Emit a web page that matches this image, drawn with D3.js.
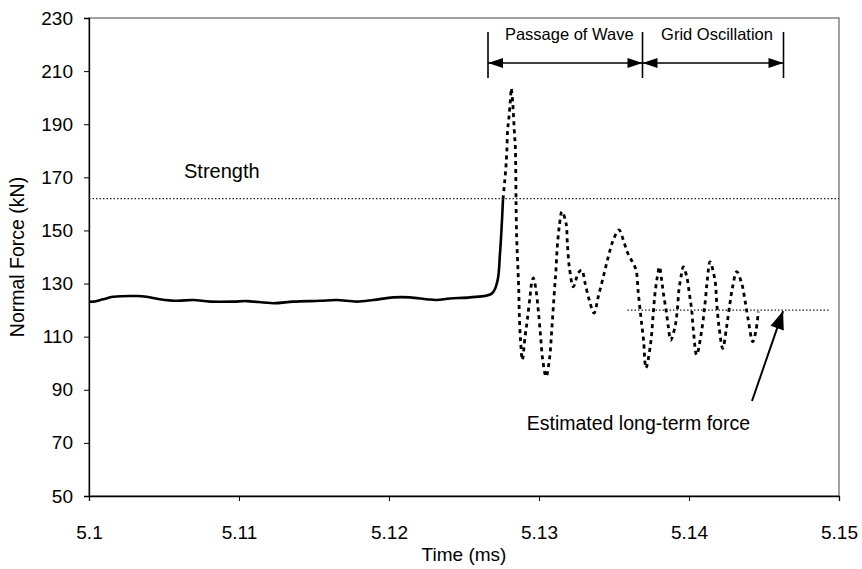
<!DOCTYPE html>
<html>
<head>
<meta charset="utf-8">
<script src="https://cdn.jsdelivr.net/npm/d3@7"></script>
<style>
  body { margin: 0; background: #fff; }
  svg text { font-family: "Liberation Sans", Arial, sans-serif; fill: #000; }
</style>
</head>
<body>
<script>
// measured force before the wave (solid)
var solidTime = [5.1, 5.10029, 5.10095, 5.10162, 5.10318, 5.10385, 5.10473, 5.10585, 5.10695, 5.10807,
    5.10962, 5.11051, 5.11229, 5.11362, 5.1154, 5.11651, 5.11785, 5.11895, 5.12029, 5.1214,
    5.12251, 5.12318, 5.12407, 5.1254, 5.12685, 5.12722, 5.1274, 5.12751, 5.1276];
var solidForce = [123.2, 123.2, 124.1, 125.0, 125.3, 125.0, 124.1, 123.5, 123.8, 123.2,
    123.2, 123.4, 122.6, 123.2, 123.5, 123.8, 123.2, 123.8, 124.8, 124.8,
    124.1, 123.8, 124.4, 124.8, 126.2, 130.7, 141.4, 151.4, 161.8];

// force after the wave (dotted)
var waveTime = [5.1276, 5.12769, 5.12778, 5.12785, 5.12791, 5.128, 5.12811, 5.12815, 5.12825, 5.12835,
    5.12842, 5.12845, 5.12847, 5.12851, 5.12858, 5.12865, 5.12869, 5.12878, 5.12889, 5.12907,
    5.12922, 5.1294, 5.12951, 5.12962, 5.1298, 5.12995, 5.13011, 5.13025, 5.13047, 5.13069,
    5.13085, 5.131, 5.13113, 5.13122, 5.13135, 5.13153, 5.1318, 5.13189, 5.13202, 5.13229,
    5.13262, 5.13285, 5.13307, 5.13335, 5.13367, 5.13395, 5.13429, 5.13462, 5.13495, 5.13533,
    5.13562, 5.1359, 5.13623, 5.13647, 5.13662, 5.1368, 5.13697, 5.13713, 5.13743, 5.13762,
    5.13773, 5.13789, 5.13803, 5.13818, 5.13829, 5.13847, 5.13862, 5.13878, 5.13907, 5.13922,
    5.13933, 5.13951, 5.13962, 5.13985, 5.14002, 5.14018, 5.14029, 5.14051, 5.14085, 5.14107,
    5.14122, 5.1414, 5.14173, 5.14185, 5.142, 5.14225, 5.14251, 5.14273, 5.14291, 5.14318,
    5.14351, 5.14373, 5.14395, 5.14425, 5.14447, 5.14462];
var waveForce = [161.8, 167.1, 172.8, 179.2, 187.8, 192.8, 200.4, 203.5, 198.0, 187.8,
    181.5, 172.8, 160.3, 147.6, 137.7, 127.6, 117.5, 107.6, 101.2, 110.0,
    116.3, 125.0, 130.2, 132.1, 127.6, 120.0, 110.0, 101.2, 94.9, 101.2,
    112.5, 125.0, 135.1, 143.9, 151.4, 157.1, 152.8, 145.3, 136.3, 128.8,
    134.0, 135.1, 130.2, 123.8, 118.9, 125.0, 132.6, 140.1, 146.4, 150.2,
    146.4, 141.7, 138.1, 135.1, 126.4, 117.0, 108.7, 98.2, 106.9, 118.9,
    126.1, 132.6, 136.3, 131.3, 126.4, 120.0, 113.8, 108.7, 113.8, 120.0,
    127.6, 133.9, 136.3, 132.6, 126.4, 120.0, 112.5, 103.1, 112.5, 122.6,
    131.3, 138.2, 131.3, 122.6, 113.8, 105.6, 113.8, 122.6, 128.8, 134.5,
    130.1, 123.8, 116.3, 108.1, 112.5, 119.4];

var strengthForce = 162;
var longTermForce = 120;
var longTermTime = [5.1359, 5.1494];
var arrowTipTime = 5.14627;
var phaseTime = [5.1266, 5.1369, 5.1463];
var phaseLabels = ["Passage of Wave", "Grid Oscillation"];
var xTicks = [5.1, 5.11, 5.12, 5.13, 5.14, 5.15];
var yTicks = [50, 70, 90, 110, 130, 150, 170, 190, 210, 230];

var width = 862, height = 569,
    margins = {top: 18, left: 89, right: 23, bottom: 73};

var svg = d3.select("body").append("svg")
    .attr("width", width)
    .attr("height", height);

var x = d3.scaleLinear().domain([5.1, 5.15]).range([margins.left, width - margins.right]);
var y = d3.scaleLinear().domain([50, 230]).range([height - margins.bottom, margins.top]);

// plot frame
svg.append("rect")
    .attr("x", x(5.1)).attr("y", y(230))
    .attr("width", x(5.15) - x(5.1)).attr("height", y(50) - y(230))
    .attr("fill", "none").attr("stroke", "#444").attr("stroke-width", 1);

// axes
svg.append("g")
    .attr("transform", "translate(0," + y(50) + ")")
    .call(d3.axisBottom(x).tickValues(xTicks).tickSize(5).tickPadding(25)
        .tickFormat(function (d) { return String(+d.toFixed(2)); }));
svg.append("g")
    .attr("transform", "translate(" + x(5.1) + ",0)")
    .call(d3.axisLeft(y).tickValues(yTicks).tickSize(5).tickPadding(11));

svg.selectAll(".domain").attr("stroke", "#000").attr("stroke-width", 1.3);
svg.selectAll(".tick line").attr("stroke", "#000");
svg.selectAll(".tick text").attr("font-size", "19px").attr("font-family", null);

svg.append("text")
    .attr("x", (x(5.1) + x(5.15)) / 2)
    .attr("y", 561)
    .attr("text-anchor", "middle")
    .attr("font-size", "19px")
    .text("Time (ms)");

svg.append("text")
    .attr("transform", "translate(24," + y(140) + ") rotate(-90)")
    .attr("text-anchor", "middle")
    .attr("font-size", "19.5px")
    .text("Normal Force (kN)");

// strength and long-term reference lines
svg.append("line")
    .attr("x1", x(5.1)).attr("x2", x(5.15))
    .attr("y1", y(strengthForce)).attr("y2", y(strengthForce))
    .attr("stroke", "#222").attr("stroke-width", 1.3).attr("stroke-dasharray", "1.5,2");

svg.append("line")
    .attr("x1", x(longTermTime[0])).attr("x2", x(longTermTime[1]))
    .attr("y1", y(longTermForce)).attr("y2", y(longTermForce))
    .attr("stroke", "#222").attr("stroke-width", 1.3).attr("stroke-dasharray", "1.5,2");

// force curves
var line = d3.line()
    .x(function (d) { return x(d[0]); })
    .y(function (d) { return y(d[1]); })
    .curve(d3.curveCatmullRom.alpha(0.5));

svg.append("path")
    .datum(d3.zip(solidTime, solidForce))
    .attr("d", line)
    .attr("fill", "none").attr("stroke", "#000").attr("stroke-width", 2.6);

svg.append("path")
    .datum(d3.zip(waveTime, waveForce))
    .attr("d", line)
    .attr("fill", "none").attr("stroke", "#000").attr("stroke-width", 2.8)
    .attr("stroke-dasharray", "4,4");

// labels
svg.append("text")
    .attr("x", 184).attr("y", 178)
    .attr("font-size", "20px")
    .text("Strength");

svg.append("text")
    .attr("x", 750).attr("y", 430)
    .attr("text-anchor", "end")
    .attr("font-size", "19.5px")
    .text("Estimated long-term force");

// arrow to long-term line
function arrowHead(x1, y1, x2, y2, len, half) {
    var a = Math.atan2(y2 - y1, x2 - x1),
        bx = x2 - len * Math.cos(a), by = y2 - len * Math.sin(a),
        px = -Math.sin(a) * half, py = Math.cos(a) * half;
    return "M" + x2 + "," + y2 + "L" + (bx + px) + "," + (by + py) + "L" + (bx - px) + "," + (by - py) + "Z";
}

var tipX = x(arrowTipTime), tipY = y(longTermForce) + 1;
svg.append("line")
    .attr("x1", 752).attr("y1", 401).attr("x2", tipX).attr("y2", tipY)
    .attr("stroke", "#000").attr("stroke-width", 2);
svg.append("path")
    .attr("d", arrowHead(752, 401, tipX, tipY, 18, 7))
    .attr("fill", "#000");

// phase annotations
var annoG = svg.append("g");
annoG.selectAll("line.bar")
    .data(phaseTime)
    .enter().append("line")
    .attr("class", "bar")
    .attr("x1", function (d) { return x(d); }).attr("x2", function (d) { return x(d); })
    .attr("y1", 32).attr("y2", 78)
    .attr("stroke", "#000").attr("stroke-width", 1.6);

var arrowY = 63;
phaseLabels.forEach(function (lab, i) {
    var a = x(phaseTime[i]), b = x(phaseTime[i + 1]);
    annoG.append("line")
        .attr("x1", a).attr("x2", b).attr("y1", arrowY).attr("y2", arrowY)
        .attr("stroke", "#000").attr("stroke-width", 1.6);
    annoG.append("path").attr("d", arrowHead(b, arrowY, a, arrowY, 15, 5)).attr("fill", "#000");
    annoG.append("path").attr("d", arrowHead(a, arrowY, b, arrowY, 15, 5)).attr("fill", "#000");
    annoG.append("text")
        .attr("x", (a + b) / 2 + 4).attr("y", 40)
        .attr("text-anchor", "middle")
        .attr("font-size", "16.5px")
        .text(lab);
});
</script>
</body>
</html>
